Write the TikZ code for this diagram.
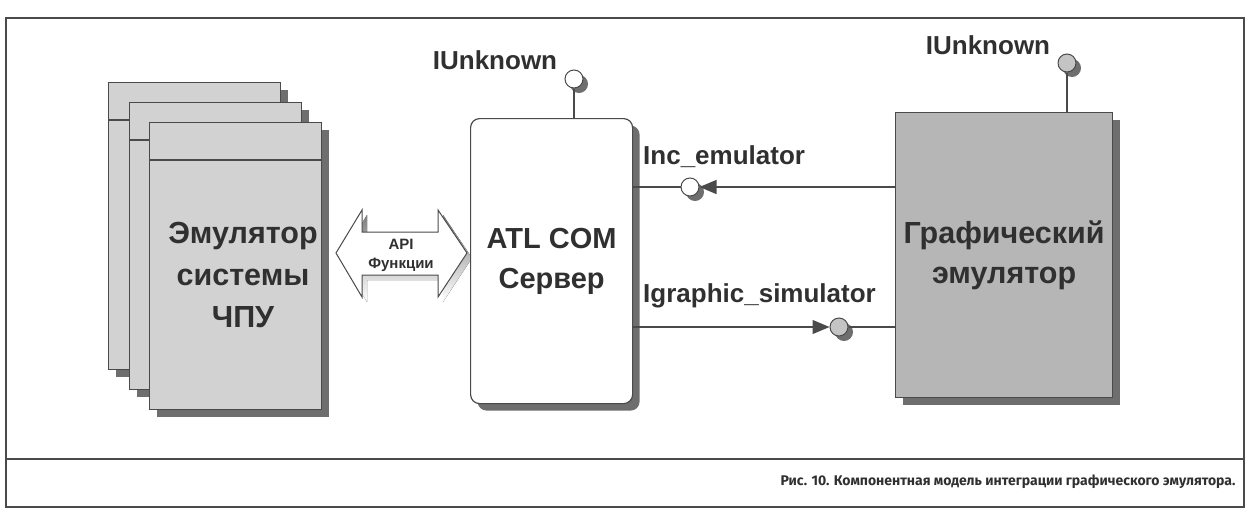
\documentclass[tikz,border=0pt]{standalone}
\usepackage{fontspec}
\setmainfont{Liberation Sans}
\newfontfamily\capfont{Fira Sans}
\usetikzlibrary{shadows,arrows.meta,calc}

\definecolor{ink}{HTML}{303030}
\definecolor{edge}{HTML}{4A4A4A}
\definecolor{pagegray}{HTML}{D2D2D2}
\definecolor{boxgray}{HTML}{B6B6B6}
\definecolor{shade}{HTML}{6E6E6E}
\definecolor{ballgray}{HTML}{C4C4C4}

\tikzset{
  shadowed/.style={drop shadow={shadow xshift=7pt, shadow yshift=-7pt, fill=shade, opacity=1}},
  pagebox/.style={draw=edge, line width=1.2pt, fill=pagegray, anchor=north west,
    minimum width=172pt, minimum height=287pt, inner sep=0pt, shadowed},
  serverbox/.style={draw=edge, line width=1.2pt, fill=white, rounded corners=9pt,
    anchor=north west, minimum width=162pt, minimum height=285pt, inner sep=0pt,
    shadowed, align=center, text=ink, font=\bfseries\fontsize{29}{40}\selectfont},
  emubox/.style={draw=edge, line width=1.2pt, fill=boxgray, anchor=north west,
    minimum width=217pt, minimum height=285pt, inner sep=0pt,
    shadowed, align=center, text=ink, font=\bfseries\fontsize{30.5}{40}\selectfont},
  lolly/.style={circle, draw=edge, line width=1pt, minimum size=18pt, inner sep=0pt,
    drop shadow={shadow xshift=5pt, shadow yshift=-5pt, fill=shade, opacity=1}},
  conn/.style={draw=edge, line width=1.2pt},
  tip/.style={-{Triangle[length=17pt,width=14pt]}},
  lbl/.style={text=ink, font=\bfseries\fontsize{26}{28}\selectfont, inner sep=0pt},
  bigtext/.style={text=ink, font=\bfseries\fontsize{30.5}{42}\selectfont, align=center},
  frameline/.style={draw=edge, line width=1.6pt},
}

\begin{document}
\begin{tikzpicture}[x=1pt, y=-1pt]
  \useasboundingbox (0,0) rectangle (1248,512);
  \fill[white] (0,0) rectangle (1248,512);

  % outer frame and caption separator
  \draw[frameline] (6,18) rectangle (1244,507);
  \draw[frameline] (6,459) -- (1244,459);

  % stack of emulator pages
  \node[pagebox] (p1) at (108,82) {};
  \draw[conn] ($(p1.north west)+(0,38)$) -- ($(p1.north east)+(0,38)$);
  \node[pagebox] (p2) at (129,102) {};
  \draw[conn] ($(p2.north west)+(0,38)$) -- ($(p2.north east)+(0,38)$);
  \node[pagebox] (p3) at (149,122) {};
  \draw[conn] ($(p3.north west)+(0,38)$) -- ($(p3.north east)+(0,38)$);
  \node[bigtext] (cnc) at (243,275) {Эмулятор\\системы\\ЧПУ};

  % API double arrow between the pages and the server
  \fill[shade] (341,258) -- (367,215) -- (367,237) -- (443,237) -- (443,215)
    -- (472,258) -- (443,302) -- (443,280) -- (367,280) -- (367,302) -- cycle;
  \draw[conn, fill=white, line width=1pt] (336,253) -- (362,210) -- (362,232) -- (438,232)
    -- (438,210) -- (467,253) -- (438,297) -- (438,275) -- (362,275) -- (362,297) -- cycle;
  \node[text=ink, font=\bfseries\fontsize{15}{19}\selectfont, align=center] (api)
    at (401,255) {API\\Функции};

  % ATL COM server
  \node[serverbox] (atl) at (470,118) {ATL COM\\Сервер};

  % graphic emulator
  \node[emubox] (ge) at (895,112) {Графический\\эмулятор};

  % interface lollipops
  \node[lolly, fill=white] (unkA) at (574,79) {};
  \node[lolly, fill=ballgray] (unkB) at (1067,63) {};
  \node[lolly, fill=white] (inc) at (690,187) {};
  \node[lolly, fill=ballgray] (igs) at (839,327) {};

  \draw[conn] (unkA.south) -- (unkA.south |- atl.north);
  \draw[conn] (unkB.south) -- (unkB.south |- ge.north);

  \draw[conn] (atl.east |- inc) -- (inc.west);
  \draw[conn, tip] (ge.west |- inc) -- (inc.east);

  \draw[conn, tip] (atl.east |- igs) -- (igs.west);
  \draw[conn] (igs.east) -- (ge.west |- igs);

  % interface names
  \node[lbl, anchor=south] (lunkA) at (495,70) {IUnknown};
  \node[lbl, anchor=south] (lunkB) at (988,55) {IUnknown};
  \node[lbl, anchor=south west] (linc) at (643,168) {Inc\_emulator};
  \node[lbl, anchor=south west] (ligs) at (643,308) {Igraphic\_simulator};

  % caption
  \node[anchor=east, text=ink, font=\capfont\bfseries\fontsize{14}{16}\selectfont]
    (cap) at (1239,482) {Рис. 10. Компонентная модель интеграции графического эмулятора.};
\end{tikzpicture}
\end{document}
